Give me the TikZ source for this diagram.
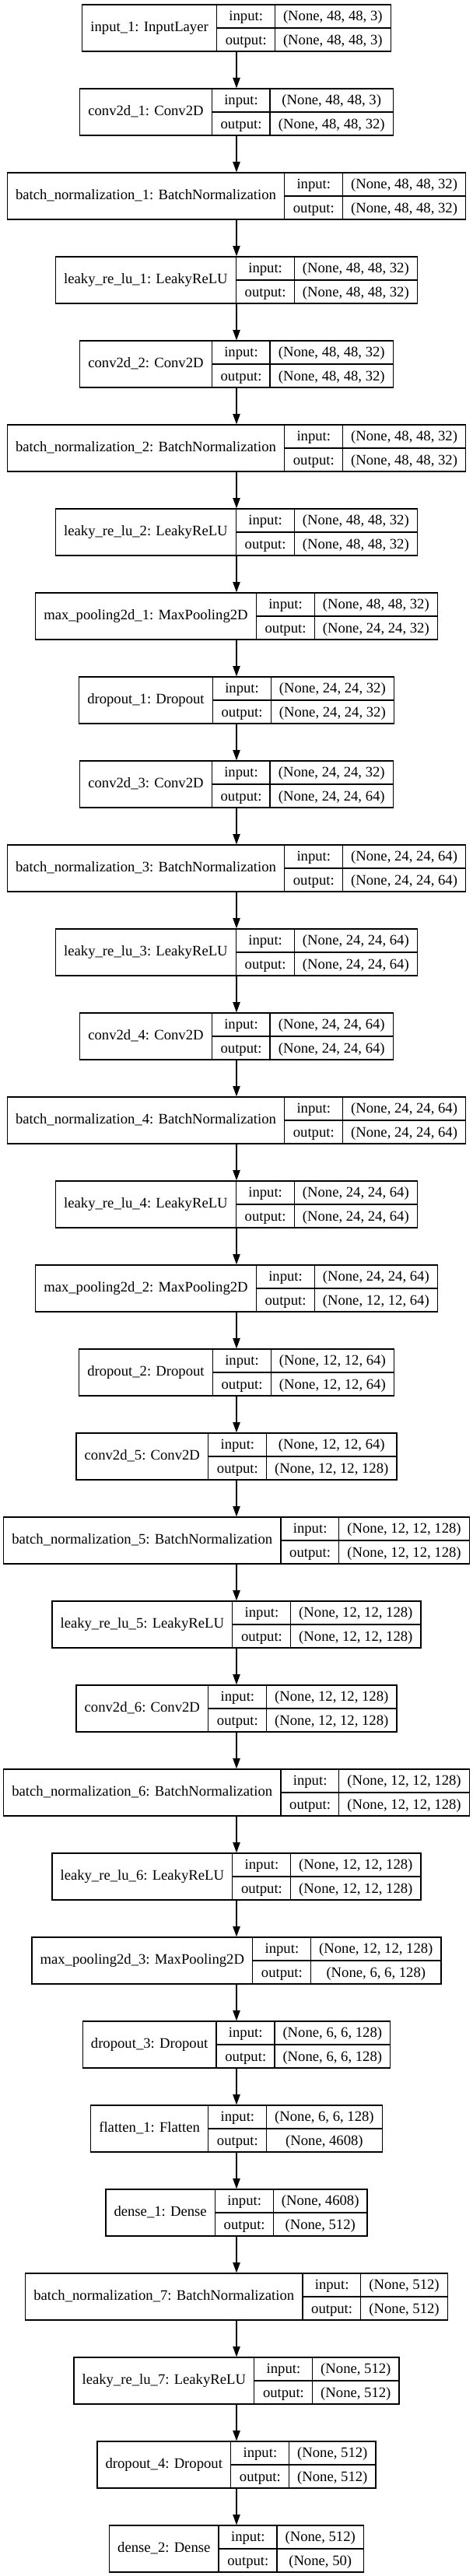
\documentclass[tikz,border=0pt]{standalone}
\usepackage{fontspec}
\setmainfont{Liberation Serif}
\usetikzlibrary{positioning,arrows.meta}

\newcommand\recfont{\fontsize{14pt}{16.8pt}\selectfont}
\setlength\tabcolsep{8pt}
\setlength\arrayrulewidth{1pt}
\renewcommand\arraystretch{1.3095}

\tikzset{
	layer/.style={draw, inner sep=0pt, anchor=north, font=\recfont}
}

% one layer box: title, input shape, output shape
\newcommand\layerbox[3]{%
	\begin{tabular}{c|@{}c@{}}
		#1 & \begin{tabular}{c|c}
			input: & #2\\ \hline
			output: & #3
		\end{tabular}
	\end{tabular}}

\begin{document}
\begin{tikzpicture}[>={Triangle[length=10pt,width=7pt]}, line width=1pt]
	\useasboundingbox (0,0) rectangle (455.25pt,-2483.25pt);
	\gdef\prev{}
	\foreach \nm/\ttl/\ins/\outs [count=\k from 0] in {%
		input1/{input\_1: InputLayer}/{(None, 48, 48, 3)}/{(None, 48, 48, 3)},
		conv1/{conv2d\_1: Conv2D}/{(None, 48, 48, 3)}/{(None, 48, 48, 32)},
		bn1/{batch\_normalization\_1: BatchNormalization}/{(None, 48, 48, 32)}/{(None, 48, 48, 32)},
		lrelu1/{leaky\_re\_lu\_1: LeakyReLU}/{(None, 48, 48, 32)}/{(None, 48, 48, 32)},
		conv2/{conv2d\_2: Conv2D}/{(None, 48, 48, 32)}/{(None, 48, 48, 32)},
		bn2/{batch\_normalization\_2: BatchNormalization}/{(None, 48, 48, 32)}/{(None, 48, 48, 32)},
		lrelu2/{leaky\_re\_lu\_2: LeakyReLU}/{(None, 48, 48, 32)}/{(None, 48, 48, 32)},
		pool1/{max\_pooling2d\_1: MaxPooling2D}/{(None, 48, 48, 32)}/{(None, 24, 24, 32)},
		drop1/{dropout\_1: Dropout}/{(None, 24, 24, 32)}/{(None, 24, 24, 32)},
		conv3/{conv2d\_3: Conv2D}/{(None, 24, 24, 32)}/{(None, 24, 24, 64)},
		bn3/{batch\_normalization\_3: BatchNormalization}/{(None, 24, 24, 64)}/{(None, 24, 24, 64)},
		lrelu3/{leaky\_re\_lu\_3: LeakyReLU}/{(None, 24, 24, 64)}/{(None, 24, 24, 64)},
		conv4/{conv2d\_4: Conv2D}/{(None, 24, 24, 64)}/{(None, 24, 24, 64)},
		bn4/{batch\_normalization\_4: BatchNormalization}/{(None, 24, 24, 64)}/{(None, 24, 24, 64)},
		lrelu4/{leaky\_re\_lu\_4: LeakyReLU}/{(None, 24, 24, 64)}/{(None, 24, 24, 64)},
		pool2/{max\_pooling2d\_2: MaxPooling2D}/{(None, 24, 24, 64)}/{(None, 12, 12, 64)},
		drop2/{dropout\_2: Dropout}/{(None, 12, 12, 64)}/{(None, 12, 12, 64)},
		conv5/{conv2d\_5: Conv2D}/{(None, 12, 12, 64)}/{(None, 12, 12, 128)},
		bn5/{batch\_normalization\_5: BatchNormalization}/{(None, 12, 12, 128)}/{(None, 12, 12, 128)},
		lrelu5/{leaky\_re\_lu\_5: LeakyReLU}/{(None, 12, 12, 128)}/{(None, 12, 12, 128)},
		conv6/{conv2d\_6: Conv2D}/{(None, 12, 12, 128)}/{(None, 12, 12, 128)},
		bn6/{batch\_normalization\_6: BatchNormalization}/{(None, 12, 12, 128)}/{(None, 12, 12, 128)},
		lrelu6/{leaky\_re\_lu\_6: LeakyReLU}/{(None, 12, 12, 128)}/{(None, 12, 12, 128)},
		pool3/{max\_pooling2d\_3: MaxPooling2D}/{(None, 12, 12, 128)}/{(None, 6, 6, 128)},
		drop3/{dropout\_3: Dropout}/{(None, 6, 6, 128)}/{(None, 6, 6, 128)},
		flat1/{flatten\_1: Flatten}/{(None, 6, 6, 128)}/{(None, 4608)},
		dense1/{dense\_1: Dense}/{(None, 4608)}/{(None, 512)},
		bn7/{batch\_normalization\_7: BatchNormalization}/{(None, 512)}/{(None, 512)},
		lrelu7/{leaky\_re\_lu\_7: LeakyReLU}/{(None, 512)}/{(None, 512)},
		drop4/{dropout\_4: Dropout}/{(None, 512)}/{(None, 512)},
		dense2/{dense\_2: Dense}/{(None, 512)}/{(None, 50)}%
	}{%
		\pgfmathsetlengthmacro\ytop{-4pt-\k*81pt}%
		\node[layer] (\nm) at (228pt,\ytop) {\layerbox{\ttl}{\ins}{\outs}};
		\ifnum\k>0 \draw[->] (\prev) -- (\nm);\fi
		\xdef\prev{\nm}%
	}
\end{tikzpicture}
\end{document}
